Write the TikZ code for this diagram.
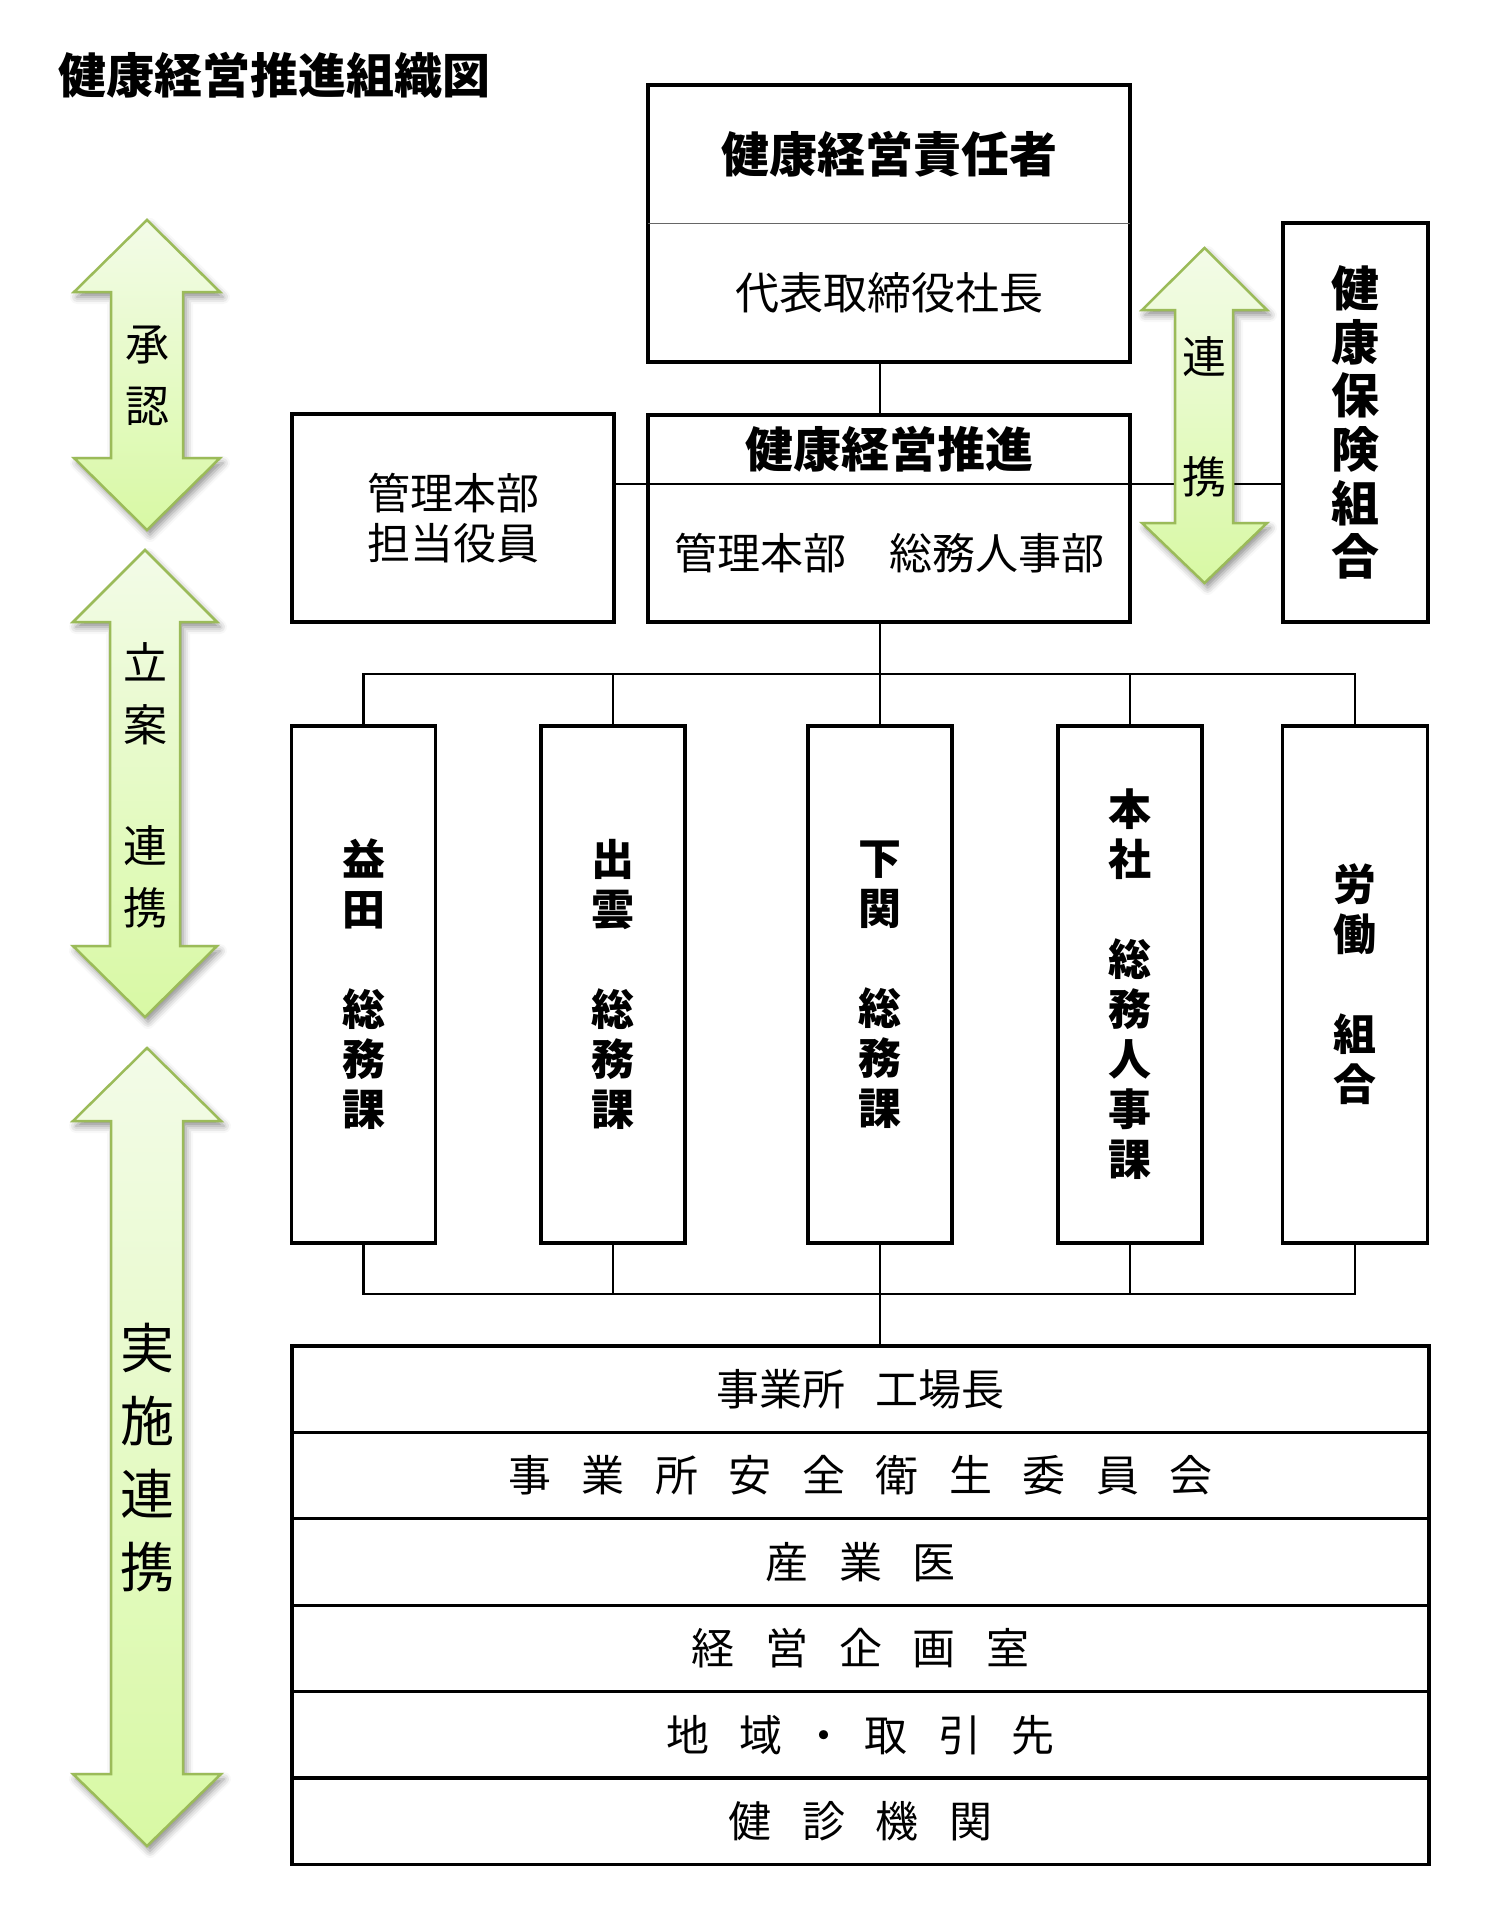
\documentclass[tikz,border=0pt]{standalone}
\usepackage{fontspec}
\setmainfont{Noto Sans CJK JP}
\usepackage{tikz}
\usetikzlibrary{positioning}
\usetikzlibrary{shadows.blur}

\definecolor{arrowedge}{RGB}{155,187,89}
\definecolor{arrowtop}{RGB}{243,251,232}
\definecolor{arrowbot}{RGB}{216,249,164}

\newcommand{\kgap}{\hspace{0.71em}}

\tikzstyle{box} = [rectangle, draw=black, line width=3.2pt, inner sep=0pt]
\tikzstyle{part} = [rectangle, inner sep=0pt, outer sep=0pt, minimum width=482pt, align=center]
\tikzstyle{dept} = [rectangle, draw=black, line width=3.2pt, inner sep=0pt, minimum width=144pt, minimum height=517pt, align=center, font=\fontsize{43}{50}\selectfont\bfseries]
\tikzstyle{row} = [rectangle, draw=black, line width=3.2pt, inner sep=0pt, outer sep=0pt, minimum width=1137pt, minimum height=86.4pt, font=\fontsize{43}{50}\selectfont]
\tikzstyle{link} = [line width=2.6pt]
\tikzstyle{bigarrow} = [draw=arrowedge, line width=2.5pt, line join=miter, top color=arrowtop, bottom color=arrowbot, blur shadow={shadow xshift=3pt, shadow yshift=-5pt, shadow blur radius=7pt, shadow opacity=45}]
\tikzstyle{arrowtext} = [align=center, inner sep=0pt, font=\fontsize{44}{62}\selectfont]

\begin{document}
\begin{tikzpicture}[x=1pt, y=-1pt]
\useasboundingbox (0,0) rectangle (1500,1913);

\node (title) [anchor=west, inner sep=0pt, font=\fontsize{48}{48}\selectfont\bfseries] at (58,75) {健康経営推進組織図};

\node (resp) [part, minimum height=138pt, font=\fontsize{48}{48}\selectfont\bfseries] at (889,154) {健康経営責任者};
\node (ceo) [part, minimum height=139pt, font=\fontsize{44}{50}\selectfont] at (889,292.5) {代表取締役社長};
\draw [line width=3.2pt] (resp.north west) rectangle (ceo.south east);
\draw [line width=0.8pt, black!60] (resp.south west) -- (resp.south east);

\node (prom) [part, minimum height=69pt, font=\fontsize{48}{48}\selectfont\bfseries] at (889,449.5) {健康経営推進};
\node (promdept) [part, minimum height=138pt, font=\fontsize{43}{50}\selectfont] at (889,553) {管理本部　総務人事部};
\draw [line width=3.2pt] (prom.north west) rectangle (promdept.south east);

\node (officer) [box, minimum width=322pt, minimum height=208pt, align=center, font=\fontsize{43}{50}\selectfont] at (453,518) {管理本部\\担当役員};
\node (hoken) [box, minimum width=145pt, minimum height=399pt, align=center, font=\fontsize{48}{53.6}\selectfont\bfseries] at (1355.5,422.5) {健\\康\\保\\険\\組\\合};

\node (masuda) [dept] at (363.5,984.5) {益\\田\\[50pt]総\\務\\課};
\node (izumo) [dept] at (613,984.5) {出\\雲\\[50pt]総\\務\\課};
\node (shimo) [dept] at (880,984.5) {下\\関\\[50pt]総\\務\\課};
\node (honsha) [dept] at (1130,984.5) {本\\社\\[50pt]総\\務\\人\\事\\課};
\node (union) [dept, minimum width=145pt] at (1355,984.5) {労\\働\\[50pt]組\\合};

\node (plant) [row] at (860.5,1389.2) {事業所\kgap 工場長};
\node (committee) [row, below=0pt of plant] {事\kgap 業\kgap 所\kgap 安\kgap 全\kgap 衛\kgap 生\kgap 委\kgap 員\kgap 会};
\node (doctor) [row, below=0pt of committee] {産\kgap 業\kgap 医};
\node (planning) [row, below=0pt of doctor] {経\kgap 営\kgap 企\kgap 画\kgap 室};
\node (partners) [row, below=0pt of planning] {地\kgap 域\hspace{0.45em}・\hspace{0.45em}取\kgap 引\kgap 先};
\node (clinic) [row, below=0pt of partners] {健\kgap 診\kgap 機\kgap 関};

\coordinate (spine) at (880,674);
\coordinate (lowbus) at (880,1294);

\draw [link] (ceo.south -| spine) -- (prom.north -| spine);
\draw [link] (officer.east |- prom.south) -- (hoken.west |- prom.south);
\draw [link] (promdept.south -| spine) -- (shimo.north);
\draw [link] (masuda.north) -- (masuda.north |- spine) -- (union.north |- spine) -- (union.north);
\draw [link] (izumo.north) -- (izumo.north |- spine);
\draw [link] (honsha.north) -- (honsha.north |- spine);
\draw [link] (masuda.south) -- (masuda.south |- lowbus) -- (union.south |- lowbus) -- (union.south);
\draw [link] (izumo.south) -- (izumo.south |- lowbus);
\draw [link] (honsha.south) -- (honsha.south |- lowbus);
\draw [link] (shimo.south) -- (plant.north -| spine);

\draw [bigarrow] (147,220) -- (220,292) -- (183,292) -- (183,458) -- (220,458) -- (147,530) -- (74,458) -- (111,458) -- (111,292) -- (74,292) -- cycle;
\draw [bigarrow] (145,550) -- (217,622) -- (180,622) -- (180,946) -- (217,946) -- (145,1017) -- (73,946) -- (110,946) -- (110,622) -- (73,622) -- cycle;
\draw [bigarrow] (147,1048) -- (221,1121) -- (183,1121) -- (183,1774) -- (221,1774) -- (147,1846) -- (73,1774) -- (111,1774) -- (111,1121) -- (73,1121) -- cycle;
\draw [bigarrow] (1204.5,248) -- (1267,310) -- (1233,310) -- (1233,523) -- (1267,523) -- (1204.5,583) -- (1142,523) -- (1175,523) -- (1175,310) -- (1142,310) -- cycle;

\node (approve) [arrowtext] at (147,376) {承\\認};
\node (plan) [arrowtext] at (145,785) {立\\案\\[59pt]連\\携};
\node (execute) [arrowtext, font=\fontsize{54}{73}\selectfont] at (147,1458) {実\\施\\連\\携};
\node (liaison) [arrowtext] at (1204,417) {連\\[58pt]携};
\end{tikzpicture}
\end{document}
